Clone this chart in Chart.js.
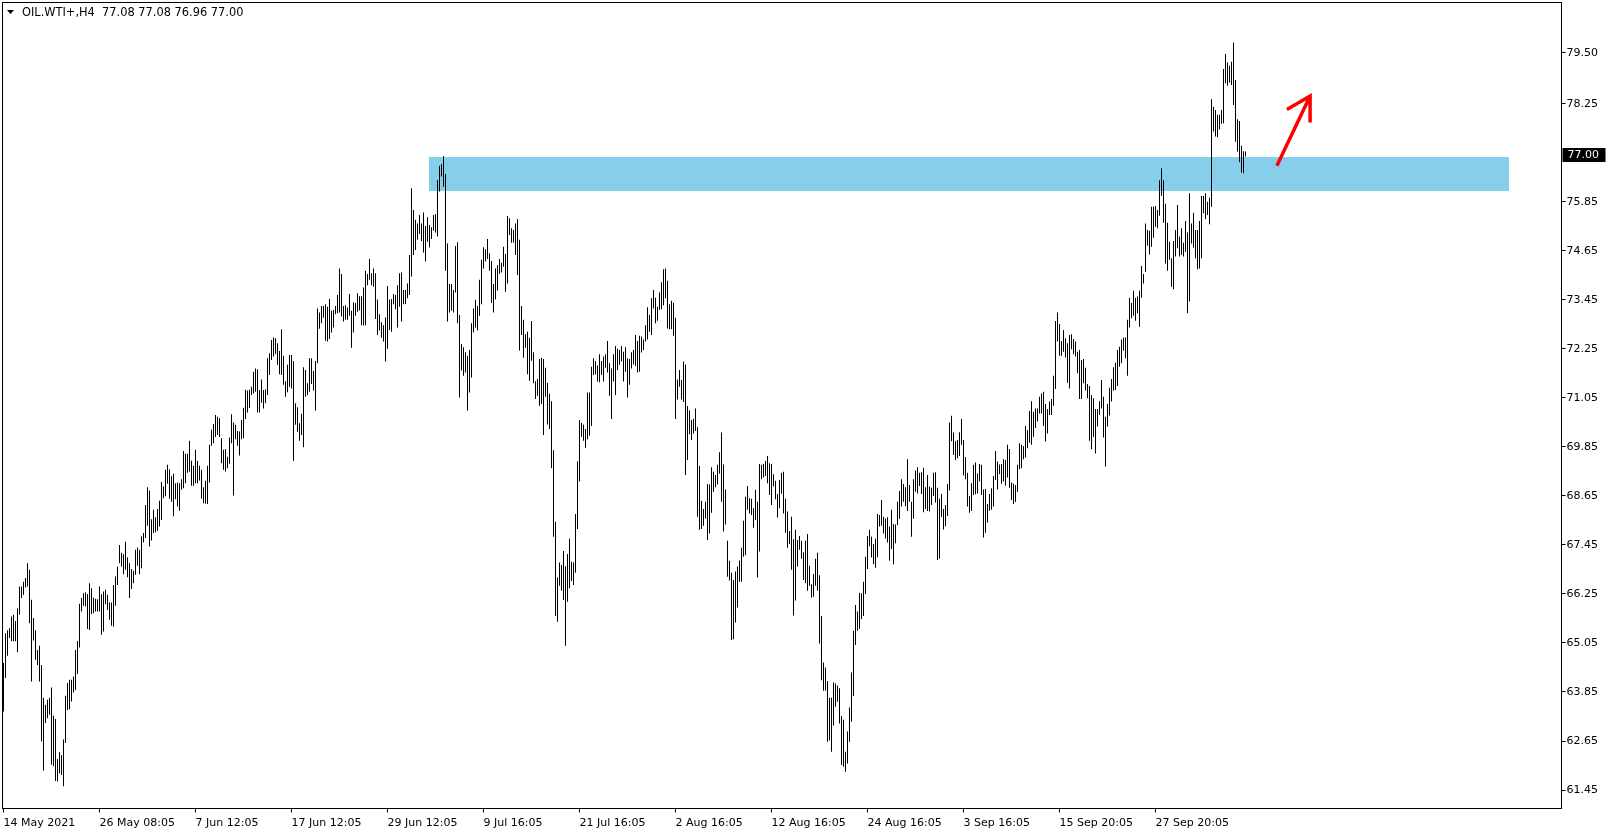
<!DOCTYPE html>
<html>
<head>
<meta charset="utf-8">
<title>OIL.WTI+,H4</title>
<script src="https://cdn.jsdelivr.net/npm/chart.js@4.4.1/dist/chart.umd.min.js"></script>
<style>
  html, body { margin: 0; padding: 0; background: #fff; }
  #wrap { width: 1611px; height: 832px; }
</style>
</head>
<body>
<div id="wrap"><canvas id="priceChart" width="1611" height="832"></canvas></div>
<script>
// -------------------------
// Data (one entry per bar)
// -------------------------
const symbolTitle = "OIL.WTI+,H4";
const lastOHLC = [77.08, 77.08, 76.96, 77.00];

const highs = [
  // 14 May ..
  64.56, 65.29, 65.36, 65.41, 65.70, 65.74, 65.59, 65.90, 66.43, 66.43, 66.55, 66.64, 67.00, 66.84, 66.11, 65.66,
  65.36, 64.88, 64.98, 64.51, 63.71, 63.54, 63.66, 63.71, 63.96, 63.27, 63.19, 62.21, 62.38, 62.31, 62.69, 63.76,
  64.07, 64.15, 64.15, 64.23, 64.88, 65.10, 66.01, 66.15, 66.27, 66.29, 66.25, 66.51, 66.39, 66.16, 66.13, 66.12,
  // 26 May ..
  66.43, 66.24, 66.31, 66.35, 66.23, 66.04, 66.04, 66.47, 66.68, 66.92, 67.45, 67.26, 67.22, 67.53, 67.15, 67.00,
  66.86, 66.82, 67.33, 67.39, 67.33, 67.66, 67.74, 68.43, 68.86, 68.78, 68.08, 68.31, 68.13, 68.33, 68.53, 68.99,
  68.88, 69.29, 69.41, 69.30, 69.13, 69.19, 68.96, 68.98, 68.96, 69.06, 69.75, 69.68, 69.68, 70.00, 69.51, 69.39,
  // 7 Jun ..
  69.78, 69.51, 69.39, 69.29, 68.86, 69.02, 69.39, 69.90, 70.27, 70.41, 70.63, 70.59, 70.55, 70.06, 69.78, 69.80,
  69.61, 70.08, 70.65, 70.45, 70.39, 70.24, 70.23, 70.51, 70.81, 71.25, 71.23, 71.25, 71.32, 71.69, 71.77, 71.75,
  71.24, 71.50, 71.24, 71.26, 72.02, 72.14, 72.47, 72.53, 72.51, 72.39, 72.20, 72.73, 72.08, 71.46, 71.86, 72.10,
  // 17 Jun ..
  72.10, 71.95, 70.92, 70.82, 70.43, 70.66, 71.80, 71.73, 71.41, 72.02, 72.02, 71.71, 71.95, 73.24, 73.14, 73.30,
  73.30, 73.34, 73.28, 73.47, 73.18, 73.20, 73.30, 73.57, 74.22, 74.08, 73.30, 73.32, 73.26, 73.59, 73.18, 73.39,
  73.37, 73.61, 73.54, 73.54, 73.75, 74.16, 74.08, 74.45, 74.10, 74.22, 74.10, 73.46, 73.10, 72.90, 72.83, 73.02,
  // 29 Jun ..
  73.79, 73.46, 73.47, 73.59, 73.57, 73.81, 74.10, 74.12, 73.69, 73.69, 73.85, 74.55, 76.18, 75.65, 75.41, 75.32,
  75.53, 75.32, 75.59, 75.26, 75.47, 75.28, 75.23, 75.53, 75.55, 76.38, 76.73, 76.77, 76.97, 76.53, 74.83, 73.84,
  73.84, 73.69, 74.77, 74.86, 73.08, 72.37, 72.29, 72.17, 72.08, 72.22, 72.88, 73.24, 73.45, 73.30, 73.94, 74.43,
  // 9 Jul ..
  74.74, 74.69, 74.94, 74.59, 74.40, 73.84, 74.22, 74.30, 74.45, 74.36, 74.75, 74.57, 75.50, 75.45, 75.20, 75.16,
  75.32, 75.42, 74.92, 73.30, 72.96, 72.61, 72.67, 72.52, 72.93, 72.17, 71.46, 71.51, 72.00, 72.03, 72.00, 71.79,
  71.42, 71.15, 70.97, 69.77, 68.02, 66.65, 67.02, 66.96, 67.30, 66.93, 67.23, 67.60, 67.04, 67.02, 68.21, 69.50,
  // 21 Jul ..
  70.51, 70.44, 70.39, 70.29, 71.18, 71.18, 71.81, 72.02, 71.95, 71.84, 72.12, 71.95, 72.06, 72.12, 72.44, 71.90,
  71.77, 72.12, 72.32, 72.25, 72.22, 72.32, 72.18, 72.29, 72.02, 72.00, 72.17, 72.22, 72.59, 72.44, 72.57, 72.55,
  72.48, 72.83, 73.27, 73.08, 73.49, 73.69, 73.50, 73.28, 73.63, 73.88, 74.20, 74.22, 73.92, 73.34, 73.43, 73.38,
  // 2 Aug ..
  73.01, 71.50, 71.73, 71.49, 71.94, 71.87, 70.85, 70.74, 70.51, 70.54, 70.79, 70.33, 69.38, 68.53, 68.33, 68.51,
  68.94, 68.93, 69.35, 69.24, 69.16, 69.41, 69.72, 70.20, 69.42, 68.81, 67.55, 67.06, 66.77, 66.59, 66.80, 66.92,
  67.07, 67.38, 68.04, 68.63, 68.89, 68.59, 68.58, 68.35, 68.80, 68.51, 69.43, 69.41, 69.43, 69.51, 69.63, 69.45,
  // 12 Aug ..
  69.43, 69.18, 69.02, 68.70, 69.04, 69.22, 69.24, 68.58, 68.27, 67.79, 68.14, 67.59, 67.82, 67.57, 67.67, 67.55,
  67.27, 67.55, 67.72, 66.94, 66.49, 66.74, 67.11, 67.26, 66.71, 65.71, 64.57, 64.45, 64.12, 63.71, 63.71, 64.08,
  64.06, 64.01, 63.94, 63.26, 63.17, 62.39, 62.88, 63.47, 64.33, 65.35, 65.98, 65.82, 66.28, 66.27, 66.55, 67.16,
  // 24 Aug ..
  67.67, 67.82, 67.65, 67.47, 67.60, 68.21, 68.18, 68.55, 68.14, 68.10, 68.13, 67.90, 68.31, 67.96, 67.95, 68.51,
  68.77, 69.06, 68.94, 68.86, 69.55, 68.92, 68.51, 69.06, 69.27, 69.35, 69.22, 69.23, 69.34, 68.86, 69.16, 68.88,
  68.85, 69.22, 69.23, 68.85, 68.58, 68.70, 68.33, 68.43, 68.94, 70.45, 70.61, 70.20, 69.99, 70.02, 70.21, 70.53,
  // 3 Sep ..
  70.02, 69.60, 69.22, 68.65, 68.96, 69.41, 69.47, 69.20, 69.43, 69.41, 68.81, 68.82, 68.45, 68.70, 68.84, 69.14,
  69.75, 69.49, 69.42, 69.43, 69.55, 69.53, 69.90, 69.80, 68.98, 68.95, 68.92, 69.41, 69.94, 69.90, 69.87, 70.36,
  70.26, 70.73, 70.97, 70.71, 70.79, 70.79, 71.08, 71.16, 71.20, 70.90, 70.78, 70.96, 71.02, 71.59, 72.93, 73.14,
  // 15 Sep ..
  72.86, 72.44, 72.71, 72.51, 72.39, 72.59, 72.61, 72.49, 72.43, 72.18, 72.22, 71.98, 72.00, 71.79, 71.39, 71.34,
  71.12, 71.04, 70.78, 70.78, 70.97, 71.49, 71.08, 70.59, 70.90, 71.30, 71.51, 71.80, 71.91, 72.22, 72.30, 72.48,
  72.53, 72.53, 72.96, 73.50, 73.37, 73.67, 73.50, 73.53, 73.67, 74.28, 74.08, 75.32, 75.16, 75.14, 75.73, 75.73,
  // 27 Sep ..
  75.75, 75.65, 76.38, 76.67, 76.38, 75.80, 75.34, 74.87, 74.47, 74.89, 75.16, 75.77, 75.00, 75.20, 74.85, 75.38,
  75.10, 76.06, 75.32, 75.58, 75.16, 75.16, 75.38, 75.99, 75.99, 76.06, 75.85, 75.95, 78.36, 78.18, 78.10, 77.98,
  77.98, 78.10, 79.10, 79.47, 79.26, 79.18, 79.28, 79.75, 78.83, 77.87, 77.83, 77.22, 77.09, 77.08
];

const lows = [
  // 14 May ..
  63.37, 64.19, 64.74, 65.17, 65.09, 65.09, 65.09, 64.82, 65.74, 66.15, 66.23, 66.41, 66.43, 65.53, 64.11, 65.11,
  64.64, 64.51, 64.11, 62.64, 61.93, 63.09, 63.21, 63.29, 62.07, 62.03, 61.67, 61.66, 61.86, 61.82, 61.54, 62.60,
  63.41, 63.43, 63.62, 63.84, 63.89, 64.29, 64.94, 65.82, 65.96, 65.94, 65.39, 65.37, 65.76, 65.78, 65.82, 65.82,
  // 26 May ..
  65.82, 65.25, 65.33, 66.00, 65.86, 65.62, 65.47, 65.45, 65.96, 66.47, 67.00, 66.92, 66.73, 66.84, 66.66, 66.15,
  66.37, 66.51, 66.72, 66.94, 66.73, 66.88, 67.51, 67.62, 67.92, 67.41, 67.56, 67.74, 67.76, 67.80, 67.90, 68.06,
  68.59, 68.64, 68.95, 68.58, 68.51, 68.15, 68.57, 68.39, 68.29, 68.80, 68.84, 68.96, 69.22, 69.25, 68.90, 68.90,
  // 7 Jun ..
  68.96, 68.96, 69.03, 68.58, 68.47, 68.46, 68.45, 68.98, 69.88, 69.94, 70.09, 70.14, 70.09, 69.45, 69.29, 69.25,
  69.33, 69.44, 69.94, 68.66, 70.04, 69.88, 69.64, 70.04, 70.06, 70.53, 70.69, 70.80, 71.12, 71.16, 71.20, 70.69,
  70.69, 70.93, 70.79, 70.92, 71.12, 71.61, 71.98, 72.06, 72.12, 71.86, 71.63, 71.61, 71.37, 71.08, 71.19, 71.32,
  // 17 Jun ..
  71.28, 69.51, 70.39, 70.22, 70.00, 70.14, 69.84, 71.08, 71.12, 71.20, 71.39, 71.23, 70.74, 71.90, 72.74, 72.88,
  73.01, 72.45, 72.43, 72.49, 72.65, 72.77, 73.10, 73.12, 73.14, 73.04, 72.92, 72.96, 72.96, 73.06, 72.28, 72.65,
  73.06, 73.16, 73.19, 72.83, 72.82, 72.83, 73.81, 73.94, 73.81, 73.77, 72.98, 72.59, 72.70, 72.52, 72.43, 71.94,
  // 29 Jun ..
  72.25, 72.71, 72.67, 73.34, 73.22, 72.77, 73.28, 72.92, 73.34, 73.35, 73.49, 73.57, 74.02, 74.55, 74.67, 74.92,
  75.06, 74.89, 74.61, 74.39, 74.87, 74.73, 74.94, 75.14, 75.10, 75.00, 76.10, 76.47, 76.22, 74.16, 72.92, 73.14,
  73.19, 73.14, 73.63, 72.88, 71.06, 71.72, 71.59, 71.67, 70.74, 71.18, 71.55, 72.65, 72.77, 72.70, 73.06, 73.34,
  // 9 Jul ..
  74.22, 74.39, 74.45, 74.16, 73.37, 73.14, 73.46, 73.68, 74.08, 74.12, 74.26, 73.65, 73.85, 75.04, 74.85, 74.85,
  74.55, 74.06, 72.21, 72.59, 72.03, 72.28, 71.63, 71.47, 71.96, 71.41, 71.02, 71.10, 70.86, 70.90, 70.14, 71.08,
  70.40, 70.29, 69.33, 67.65, 65.71, 65.57, 66.45, 66.33, 66.10, 64.98, 66.06, 66.39, 66.57, 66.47, 66.77, 67.84,
  // 21 Jul ..
  69.00, 70.10, 70.00, 69.83, 70.04, 70.12, 70.36, 71.61, 71.63, 71.45, 71.43, 71.61, 71.45, 71.79, 71.67, 71.10,
  70.53, 71.45, 71.12, 71.73, 71.86, 71.94, 71.45, 71.69, 71.06, 71.37, 71.77, 71.87, 71.83, 71.67, 71.69, 72.16,
  72.22, 72.43, 72.48, 72.67, 72.59, 73.24, 72.88, 72.94, 73.20, 73.22, 73.32, 73.49, 72.75, 72.73, 72.73, 72.57,
  // 2 Aug ..
  70.53, 71.01, 71.32, 71.01, 70.95, 69.16, 69.53, 70.16, 70.02, 70.18, 70.24, 68.14, 67.82, 67.84, 67.92, 68.10,
  67.57, 67.73, 68.24, 68.75, 68.86, 68.93, 69.19, 68.51, 67.78, 67.95, 66.67, 66.58, 65.12, 65.14, 65.55, 65.92,
  66.55, 66.55, 67.16, 67.20, 68.31, 68.22, 68.18, 67.87, 68.06, 66.65, 67.29, 69.06, 69.10, 69.14, 68.96, 68.67,
  // 12 Aug ..
  68.43, 68.88, 68.57, 68.12, 68.35, 68.71, 68.22, 67.75, 67.38, 67.47, 66.84, 65.72, 66.09, 66.92, 67.33, 67.11,
  66.59, 66.51, 66.33, 66.45, 66.16, 66.18, 66.45, 66.33, 65.04, 64.14, 63.88, 63.88, 62.63, 62.66, 62.39, 63.03,
  63.49, 63.61, 63.08, 62.06, 62.02, 61.90, 62.10, 62.63, 63.12, 63.75, 65.00, 65.35, 65.39, 65.63, 65.71, 66.25,
  // 24 Aug ..
  66.86, 67.42, 67.14, 66.98, 66.89, 67.15, 67.90, 67.92, 67.73, 67.61, 67.51, 67.06, 67.35, 66.98, 67.49, 67.94,
  68.09, 68.39, 68.51, 68.40, 68.28, 68.51, 67.65, 68.09, 68.75, 68.71, 68.89, 68.70, 68.25, 68.33, 68.28, 68.27,
  68.43, 68.65, 68.49, 67.08, 67.12, 68.14, 67.83, 67.91, 68.16, 68.78, 69.99, 69.65, 69.53, 69.57, 69.63, 69.90,
  // 3 Sep ..
  69.15, 69.06, 68.39, 68.24, 68.28, 68.67, 68.69, 68.71, 69.00, 68.67, 67.63, 67.75, 68.00, 68.29, 68.31, 68.39,
  69.04, 68.81, 69.18, 68.95, 69.00, 68.90, 69.10, 68.85, 68.55, 68.45, 68.50, 68.75, 69.30, 69.33, 69.55, 69.59,
  69.82, 69.95, 69.90, 70.10, 70.31, 70.47, 70.67, 70.67, 70.36, 69.98, 70.18, 70.63, 70.63, 70.86, 71.27, 72.43,
  // 15 Sep ..
  72.08, 72.08, 72.18, 72.04, 71.42, 71.28, 72.24, 72.12, 72.06, 71.65, 71.02, 71.02, 71.41, 71.23, 71.04, 70.00,
  69.79, 70.10, 69.69, 70.35, 70.63, 70.79, 70.08, 69.37, 70.35, 70.62, 70.96, 71.23, 71.24, 71.34, 71.81, 71.90,
  72.21, 72.02, 71.59, 72.77, 73.00, 73.06, 72.94, 73.12, 72.79, 73.50, 73.85, 74.14, 74.78, 74.56, 74.75, 74.97,
  // 27 Sep ..
  75.24, 75.20, 75.51, 76.00, 75.34, 74.34, 74.16, 74.43, 73.77, 73.71, 74.51, 74.71, 74.51, 74.55, 74.51, 74.63,
  73.12, 73.41, 74.83, 74.73, 74.47, 74.20, 74.22, 74.47, 75.57, 75.42, 75.53, 75.30, 75.73, 77.57, 77.45, 77.43,
  77.62, 77.76, 77.77, 78.75, 78.69, 78.77, 78.71, 78.22, 77.32, 77.08, 76.82, 76.57, 76.55, 76.96
];

// time axis: one label every 48 bars (8 trading days of H4)
const xTickBars = [0, 48, 96, 144, 192, 240, 288, 336, 384, 432, 480, 528, 576];
const xTickLabels = [
  "14 May 2021", "26 May 08:05", "7 Jun 12:05", "17 Jun 12:05", "29 Jun 12:05", "9 Jul 16:05",
  "21 Jul 16:05", "2 Aug 16:05", "12 Aug 16:05", "24 Aug 16:05", "3 Sep 16:05", "15 Sep 20:05", "27 Sep 20:05"
];

// price axis labels (77.05 is hidden behind the current price marker)
const yTickValues = [61.45, 62.65, 63.85, 65.05, 66.25, 67.45, 68.65, 69.85, 71.05, 72.25, 73.45, 74.65, 75.85, 78.25, 79.50];

// resistance zone (bar index range, price range)
const zoneBars = [212.75, 752.75];
const zonePrices = [76.12, 76.95];

// hand-drawn red arrow, in [bar, price]
const arrowShaft = [[636.7, 76.73], [653.3, 78.44]];
const arrowWingLeft = [641.7, 78.11];
const arrowWingDown = [653.3, 77.79];

(function () {
  "use strict";

  const FONT = "DejaVu Sans";

  // -------------------------
  // Helpers
  // -------------------------
  function buildBars() {
    const out = [];
    for (let i = 0; i < highs.length; i++) {
      out.push({ x: i, y: [lows[i], highs[i]] });
    }
    return out;
  }

  // no label padding: the plot frame must sit at fixed pixels
  function noPadding(s) {
    s.paddingTop = 0;
    s.paddingBottom = 0;
    s.paddingLeft = 0;
    s.paddingRight = 0;
  }

  const framePlugin = {
    id: "mt4Frame",
    beforeDatasetsDraw(chart) {
      const { ctx, scales } = chart;
      const xs = scales.x, ys = scales.y;
      // blue zone behind the bars
      const x0 = xs.getPixelForValue(zoneBars[0]);
      const x1 = xs.getPixelForValue(zoneBars[1]);
      const y0 = ys.getPixelForValue(zonePrices[1]);
      const y1 = ys.getPixelForValue(zonePrices[0]);
      ctx.save();
      ctx.fillStyle = "#87CEEB";
      ctx.fillRect(Math.round(x0), Math.round(y0), Math.round(x1 - x0), Math.round(y1 - y0));
      ctx.restore();
    },
    afterDatasetsDraw(chart) {
      const { ctx, scales } = chart;
      const xs = scales.x, ys = scales.y;
      const px = (p) => [xs.getPixelForValue(p[0]), ys.getPixelForValue(p[1])];
      const a = px(arrowShaft[0]);
      const tip = px(arrowShaft[1]);
      const wl = px(arrowWingLeft);
      const wd = px(arrowWingDown);
      ctx.save();
      ctx.strokeStyle = "#FF0000";
      ctx.lineWidth = 3.5;
      ctx.lineJoin = "miter";
      ctx.beginPath();
      ctx.moveTo(a[0], a[1]);
      ctx.lineTo(tip[0], tip[1]);
      ctx.moveTo(wl[0], wl[1]);
      ctx.lineTo(tip[0], tip[1]);
      ctx.lineTo(wd[0], wd[1]);
      ctx.stroke();
      ctx.restore();
    },
    afterDraw(chart) {
      const { ctx, chartArea, scales } = chart;
      ctx.save();
      // chart frame
      ctx.strokeStyle = "#000";
      ctx.lineWidth = 1;
      ctx.strokeRect(chartArea.left, chartArea.top, chartArea.right - chartArea.left, chartArea.bottom - chartArea.top);

      // current price marker on the price scale
      const yp = Math.round(scales.y.getPixelForValue(lastOHLC[3]));
      ctx.fillStyle = "#000";
      ctx.fillRect(chartArea.right + 1, yp - 7, 43, 14);
      ctx.fillStyle = "#fff";
      ctx.font = "11px '" + FONT + "'";
      ctx.textBaseline = "middle";
      ctx.textAlign = "left";
      ctx.fillText(lastOHLC[3].toFixed(2), chartArea.right + 6, yp + 0.5);

      // header: symbol and last bar OHLC
      ctx.fillStyle = "#000";
      ctx.beginPath();
      ctx.moveTo(7, 10);
      ctx.lineTo(14, 10);
      ctx.lineTo(10.5, 14);
      ctx.closePath();
      ctx.fill();
      ctx.font = "11.4px '" + FONT + "'";
      ctx.fillText(symbolTitle + "  " + lastOHLC.map((v) => v.toFixed(2)).join(" "), 22, 13);
      ctx.restore();
    },
  };

  function createChart() {
    const el = document.getElementById("priceChart");
    const ctx = el.getContext("2d");
    return new Chart(ctx, {
      type: "bar",
      data: {
        datasets: [
          {
            label: symbolTitle,
            data: buildBars(),
            backgroundColor: "#000",
            borderWidth: 0,
            borderSkipped: false,
            barThickness: 1,
            inflateAmount: 0,
            grouped: false,
          },
        ],
      },
      options: {
        responsive: false,
        animation: false,
        devicePixelRatio: 1,
        events: [],
        layout: { padding: { left: 2.5, top: 2.5, right: 0, bottom: 0 } },
        plugins: { legend: { display: false }, tooltip: { enabled: false } },
        scales: {
          x: {
            type: "linear",
            position: "bottom",
            min: -0.5,
            max: 779,
            offset: false,
            afterBuildTicks: (s) => { s.ticks = xTickBars.map((v) => ({ value: v })); },
            afterFit: (s) => { s.height = 23.5; noPadding(s); },
            grid: { offset: false, drawOnChartArea: false, drawTicks: true, tickLength: 4, color: "#000" },
            border: { display: true, color: "#000" },
            ticks: {
              autoSkip: false,
              maxRotation: 0,
              align: "start",
              padding: 4,
              color: "#000",
              font: { family: FONT, size: 11 },
              callback: (v, idx) => xTickLabels[idx],
            },
          },
          y: {
            type: "linear",
            position: "right",
            min: 60.998,
            max: 80.729,
            afterBuildTicks: (s) => { s.ticks = yTickValues.map((v) => ({ value: v })); },
            afterFit: (s) => { s.width = 49.5; noPadding(s); },
            grid: { drawOnChartArea: false, drawTicks: true, tickLength: 4, color: "#000" },
            border: { display: true, color: "#000" },
            ticks: {
              autoSkip: false,
              padding: 1,
              color: "#000",
              font: { family: FONT, size: 11 },
              callback: (v) => Number(v).toFixed(2),
            },
          },
        },
      },
      plugins: [framePlugin],
    });
  }

  try {
    window.__priceChart = createChart();
  } catch (e) {
    console.error("createChart error", e);
  }
})();
</script>
</body>
</html>
